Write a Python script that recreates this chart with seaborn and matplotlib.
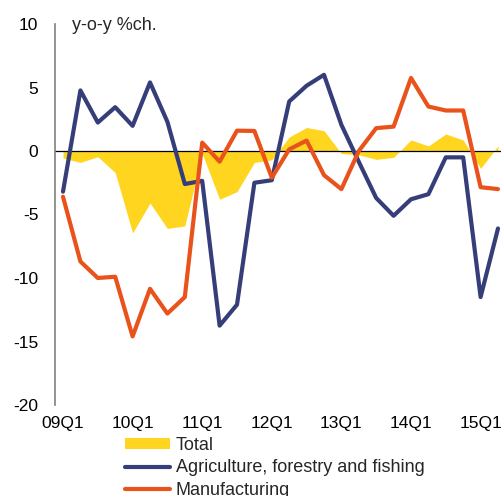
import matplotlib
matplotlib.use("Agg")
import matplotlib.pyplot as plt
import seaborn as sns
import pandas as pd

quarters = ["09Q1", "09Q2", "09Q3", "09Q4", "10Q1", "10Q2", "10Q3", "10Q4",
            "11Q1", "11Q2", "11Q3", "11Q4", "12Q1", "12Q2", "12Q3", "12Q4",
            "13Q1", "13Q2", "13Q3", "13Q4", "14Q1", "14Q2", "14Q3", "14Q4",
            "15Q1", "15Q2"]
total = [-0.55, -0.9, -0.45, -1.7, -6.45, -4.1, -6.1, -5.9,
         -0.2, -3.8, -3.2, -0.9, -0.7, 1.1, 1.85, 1.6,
         -0.2, -0.3, -0.66, -0.5, 0.87, 0.4, 1.34, 0.87,
         -1.37, 0.4]
agriculture = [-3.2, 4.77, 2.24, 3.45, 1.98, 5.4, 2.3, -2.6,
               -2.35, -13.75, -12.1, -2.5, -2.3, 3.9, 5.14, 6.0,
               2.06, -0.85, -3.7, -5.1, -3.8, -3.4, -0.5, -0.5,
               -11.5, -6.1]
manufacturing = [-3.6, -8.7, -10.0, -9.9, -14.6, -10.85, -12.8, -11.5,
                 0.66, -0.84, 1.6, 1.58, -2.1, 0.13, 0.82, -1.9,
                 -3.0, 0.0, 1.8, 1.92, 5.75, 3.5, 3.19, 3.19,
                 -2.85, -3.0]
tick_labels = ["09Q1", "10Q1", "11Q1", "12Q1", "13Q1", "14Q1", "15Q1"]

YELLOW = "#FFD520"
BLUE = "#363E7A"
ORANGE = "#E9531B"

df = pd.DataFrame({
    "idx": range(len(quarters)),
    "quarter": quarters,
    "Total": total,
    "Agriculture, forestry and fishing": agriculture,
    "Manufacturing": manufacturing,
})

sns.set_style("white")
plt.rcParams["font.family"] = ["Liberation Sans", "DejaVu Sans"]
plt.rcParams["axes.unicode_minus"] = False

fig = plt.figure(figsize=(5.02, 4.96), dpi=100)
ax = fig.add_axes([55 / 502, 1 - 405 / 496, 1 - 55 / 502, (405 - 24) / 496])

ax.fill_between(df["idx"], 0, df["Total"], color=YELLOW, linewidth=0,
                label="Total", zorder=1)
ax.axhline(0, color="black", linewidth=0.9, zorder=2)
sns.lineplot(data=df, x="idx", y="Agriculture, forestry and fishing", ax=ax,
             color=BLUE, linewidth=3.0, label="Agriculture, forestry and fishing",
             zorder=3)
sns.lineplot(data=df, x="idx", y="Manufacturing", ax=ax,
             color=ORANGE, linewidth=3.0, label="Manufacturing", zorder=4)
for ln in ax.get_lines():
    ln.set_solid_joinstyle("round")
    ln.set_solid_capstyle("round")

ax.set_xlim(-0.46, 25.23)
ax.set_ylim(-20, 10)
ax.set_yticks([10, 5, 0, -5, -10, -15, -20])
ax.set_xticks([quarters.index(q) for q in tick_labels])
ax.set_xticklabels(tick_labels)
ax.set_xlabel("")
ax.set_ylabel("")
ax.tick_params(axis="both", length=0, labelsize=12.5, colors="black")
ax.tick_params(axis="y", pad=12)
ax.tick_params(axis="x", pad=8)

for side in ["top", "right", "bottom"]:
    ax.spines[side].set_visible(False)
ax.spines["left"].set_color("#808080")
ax.spines["left"].set_linewidth(1.2)

fig.text(72 / 502, 1 - 26 / 496, "y-o-y %ch.", fontsize=13, va="center",
         ha="left")

handles, labels = ax.get_legend_handles_labels()
if ax.get_legend():
    ax.get_legend().remove()
fig.legend(handles, labels, loc="upper left",
           bbox_to_anchor=(125 / 502, 1 - 437 / 496),
           frameon=False, fontsize=13, borderpad=0, borderaxespad=0,
           handlelength=2.5, handletextpad=0.3, labelspacing=0.3,
           handleheight=0.55)

fig.savefig("out.png", dpi=100)
